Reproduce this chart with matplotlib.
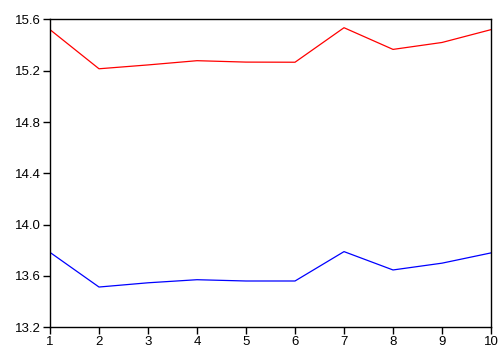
import matplotlib
matplotlib.use("Agg")
import matplotlib.pyplot as plt

# Two series over 10 periods
periods = [1, 2, 3, 4, 5, 6, 7, 8, 9, 10]
upper_series = [15.52, 15.215, 15.245, 15.278, 15.267, 15.266, 15.535, 15.366, 15.42, 15.52]
lower_series = [13.784, 13.514, 13.547, 13.571, 13.561, 13.561, 13.79, 13.647, 13.70, 13.78]
y_ticks = [13.2, 13.6, 14.0, 14.4, 14.8, 15.2, 15.6]

plt.rcParams["font.family"] = ["Liberation Sans", "DejaVu Sans"]

fig = plt.figure(figsize=(4.99, 3.46), dpi=100)
ax = fig.add_axes([0.1002, 0.054, 0.8838, 0.890])

ax.plot(periods, upper_series, color="#ff0000", linewidth=0.9)
ax.plot(periods, lower_series, color="#0000ff", linewidth=0.9)

ax.set_xlim(1, 10)
ax.set_ylim(13.2, 15.6)
ax.set_xticks(periods)
ax.set_yticks(y_ticks)
ax.set_yticklabels([f"{v:.1f}" for v in y_ticks])

ax.tick_params(axis="both", direction="out", length=5, width=1, labelsize=9.5,
               top=False, right=False, pad=1.5)
for spine in ax.spines.values():
    spine.set_linewidth(1.0)

fig.savefig("out.png", dpi=100)
